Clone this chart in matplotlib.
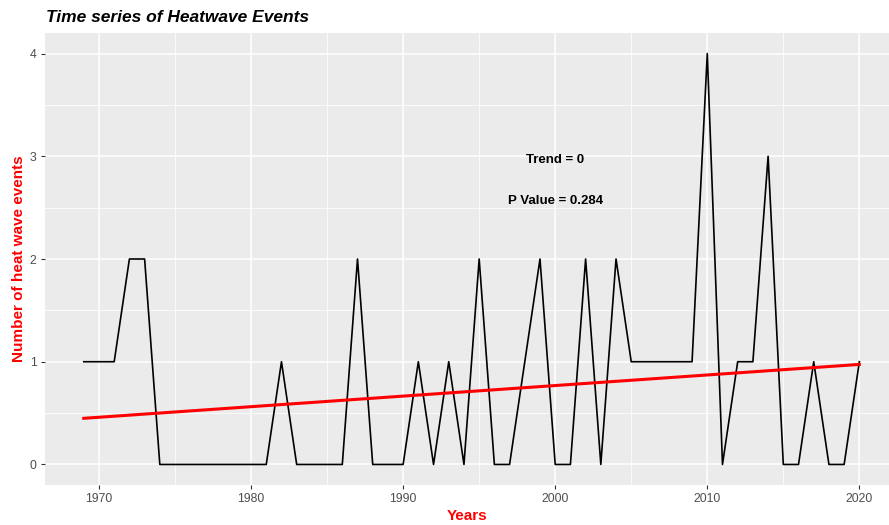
import matplotlib
matplotlib.use("Agg")
import matplotlib.pyplot as plt
from matplotlib.ticker import MultipleLocator
import numpy as np

plt.rcParams['font.family'] = ['Liberation Sans', 'DejaVu Sans']

years = np.arange(1969, 2021)
events = [1, 1, 1, 2, 2, 0, 0, 0, 0, 0, 0, 0, 0, 1, 0, 0, 0, 0, 2, 0,
          0, 0, 1, 0, 1, 0, 2, 0, 0, 1, 2, 0, 0, 2, 0, 2, 1, 1, 1, 1,
          1, 4, 0, 1, 1, 3, 0, 0, 1, 0, 0, 1]
trend_label = "Trend = 0"
pvalue_label = "P Value = 0.284"

# linear fit for the red trend line
slope, intercept = np.polyfit(years, events, 1)
fit = slope * years + intercept

fig = plt.figure(figsize=(8.89, 5.25), dpi=100)
ax = fig.add_axes([45 / 889, 40 / 525, 844 / 889, 452 / 525])
ax.set_facecolor('#EBEBEB')

ax.plot(years, events, color='black', lw=1.2, zorder=3)
ax.plot(years, fit, color='red', lw=2.2, zorder=4)

ax.text(2000, 2.96, trend_label, ha='center', va='center', fontsize=9.5,
        fontweight='bold', color='black')
ax.text(2000, 2.56, pvalue_label, ha='center', va='center', fontsize=9.5,
        fontweight='bold', color='black')

ax.set_xlim(1966.45, 2021.95)
ax.set_ylim(-0.2, 4.2)
ax.xaxis.set_major_locator(MultipleLocator(10))
ax.xaxis.set_minor_locator(MultipleLocator(5))
ax.yaxis.set_major_locator(MultipleLocator(1))
ax.yaxis.set_minor_locator(MultipleLocator(0.5))
ax.grid(which='major', color='white', lw=1.1)
ax.grid(which='minor', color='white', lw=0.55)
ax.set_axisbelow(True)
for s in ax.spines.values():
    s.set_visible(False)
ax.tick_params(which='major', length=3, color='#333333', labelcolor='#4D4D4D',
               labelsize=8.8, pad=3)
ax.tick_params(which='minor', length=0)

ax.set_xlabel("Years", color='red', fontweight='bold', fontsize=11, labelpad=3)
ax.set_ylabel("Number of heat wave events", color='red', fontweight='bold',
              fontsize=11, labelpad=3)
fig.text(46 / 889, 1 - 17 / 525, "Time series of Heatwave Events",
         fontsize=12.5, fontweight='bold', fontstyle='italic', va='center')

fig.savefig("out.png", dpi=100)
